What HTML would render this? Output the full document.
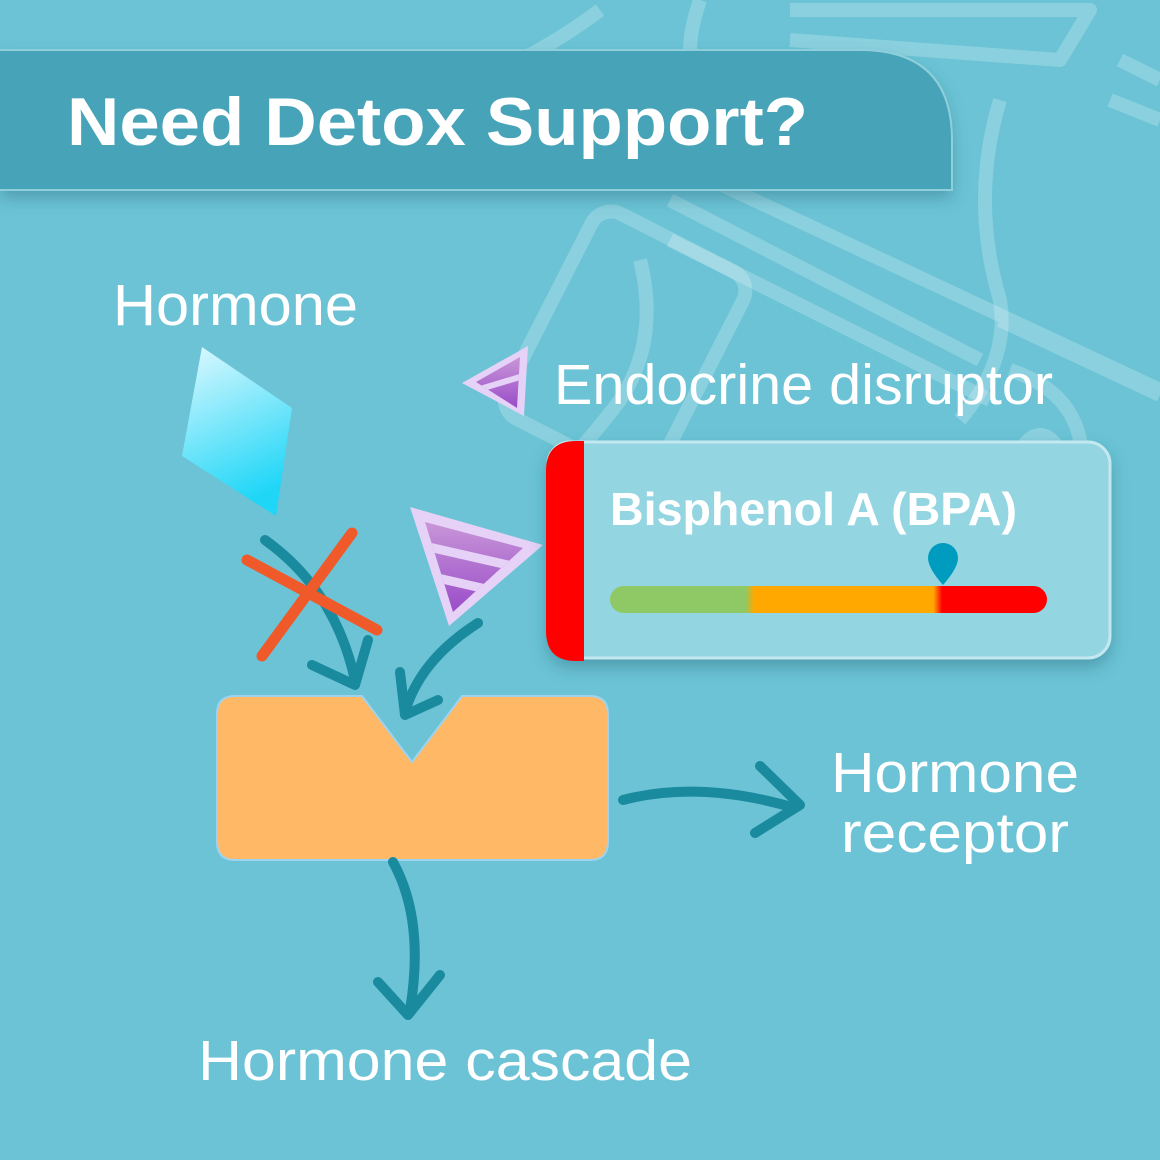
<!DOCTYPE html>
<html><head><meta charset="utf-8"><style>
html,body{margin:0;padding:0;width:1160px;height:1160px;overflow:hidden;background:#6bc3d5}
svg text{font-family:"Liberation Sans",sans-serif}
</style></head><body>
<svg width="1160" height="1160" viewBox="0 0 1160 1160" xmlns="http://www.w3.org/2000/svg">
<defs>
<linearGradient id="dia" x1="0" y1="0" x2="0.3" y2="1"><stop offset="0" stop-color="#dff9ff"/><stop offset="1" stop-color="#1fd6f7"/></linearGradient>
<linearGradient id="tri" x1="0" y1="0" x2="0" y2="1"><stop offset="0" stop-color="#c896d8"/><stop offset="1" stop-color="#9a4cc8"/></linearGradient>
<linearGradient id="bar" x1="610" y1="0" x2="1047" y2="0" gradientUnits="userSpaceOnUse">
<stop offset="0" stop-color="#8fc965"/><stop offset="0.31" stop-color="#8fc965"/><stop offset="0.33" stop-color="#ffa800"/><stop offset="0.74" stop-color="#ffa800"/><stop offset="0.76" stop-color="#ff0000"/><stop offset="1" stop-color="#ff0000"/></linearGradient>
<filter id="sh" x="-10%" y="-10%" width="120%" height="140%"><feDropShadow dx="0" dy="8" stdDeviation="8" flood-color="#2a6f80" flood-opacity="0.45"/></filter>
<clipPath id="c1"><polygon points="476,382 520,357 517,408"/></clipPath>
<clipPath id="c2"><polygon points="425,522 523,548 453,612"/></clipPath>
</defs>
<g fill="none" stroke="#ffffff" stroke-opacity="0.22" stroke-width="14" stroke-linejoin="round">
<path d="M600 10 Q560 40 520 60"/>
<path d="M700 0 Q690 30 690 50"/>
<rect x="540" y="230" width="170" height="230" rx="22" transform="rotate(27 625 345)"/>
<path d="M670 240 L990 400 M670 200 L980 360"/>
<path d="M690 170 L1160 390 M1000 320 L1160 395"/>
<path d="M790 10 L1090 10 L1060 60 L790 40"/>
<path d="M1000 100 Q970 200 1000 300 Q1010 360 960 420"/>
<path d="M1120 60 L1160 80 M1110 100 L1160 120"/>
<path d="M1010 370 Q1070 390 1080 440 L1090 520"/>
<path d="M640 260 Q660 340 620 400 Q590 440 560 470"/>
<path d="M1060 450 Q1040 420 1020 450 Q1010 480 1040 490"/>
</g>
<path d="M0 50 H860 Q952 50 952 140 V190 H0 Z" fill="#46a4b8" filter="url(#sh)"/>
<path d="M0 50 H860 Q952 50 952 140 V190 H0" fill="none" stroke="#8fcfdc" stroke-width="2"/>
<text x="67" y="145" font-size="68" font-weight="bold" fill="#fff" textLength="741" lengthAdjust="spacingAndGlyphs">Need Detox Support?</text>
<text x="113" y="325" font-size="58" fill="#fff" textLength="245" lengthAdjust="spacingAndGlyphs">Hormone</text>
<text x="554" y="404" font-size="57" fill="#fff" textLength="499" lengthAdjust="spacingAndGlyphs">Endocrine disruptor</text>
<text x="955" y="792" font-size="57" fill="#fff" text-anchor="middle" textLength="248" lengthAdjust="spacingAndGlyphs">Hormone</text>
<text x="955" y="852" font-size="57" fill="#fff" text-anchor="middle" textLength="228" lengthAdjust="spacingAndGlyphs">receptor</text>
<text x="198" y="1080" font-size="57" fill="#fff" textLength="494" lengthAdjust="spacingAndGlyphs">Hormone cascade</text>
<polygon points="202,347 292,408 276,516 182,456" fill="url(#dia)"/>
<polygon points="462,383 528,346 524,416" fill="#e6d2f7"/>
<polygon points="476,382 520,357 517,408" fill="url(#tri)"/>
<g stroke="#e6d2f7" stroke-width="6" clip-path="url(#c1)"><line x1="470" y1="368" x2="530" y2="350"/><line x1="470" y1="392" x2="530" y2="374"/></g>
<polygon points="410,507 543,545 449,626" fill="#e6d2f7"/>
<polygon points="425,522 523,548 453,612" fill="url(#tri)"/>
<g stroke="#e6d2f7" stroke-width="9" clip-path="url(#c2)"><line x1="420" y1="545" x2="530" y2="570"/><line x1="420" y1="574" x2="530" y2="599"/></g>
<rect x="548" y="442" width="562" height="216" rx="22" fill="#94d5e2" stroke="#c3e8ef" stroke-width="3" filter="url(#sh)"/>
<path d="M584 441 V661 H576 Q546 661 546 631 V471 Q546 441 576 441 Z" fill="#ff0000"/>
<text x="610" y="525" font-size="46" font-weight="bold" fill="#fff" textLength="407" lengthAdjust="spacingAndGlyphs">Bisphenol A (BPA)</text>
<rect x="610" y="586" width="437" height="27" rx="13.5" fill="url(#bar)"/>
<path d="M943 585 Q928 568 928 558 A15 15 0 0 1 958 558 Q958 568 943 585 Z" fill="#009cc0"/>
<path d="M235 696 H362 L412 762 L462 696 H590 Q608 696 608 714 V842 Q608 860 590 860 H235 Q217 860 217 842 V714 Q217 696 235 696 Z" fill="#ffb866" stroke="#9dd3f0" stroke-width="2"/>
<g fill="none" stroke="#1a8a9e" stroke-width="10" stroke-linecap="round" stroke-linejoin="round">
<path d="M265 540 Q335 590 355 680"/>
<path d="M312 665 L355 685 L368 640"/>
<path d="M478 623 Q420 660 405 712"/>
<path d="M400 672 L405 715 L438 700"/>
<path d="M623 800 Q700 780 795 808"/>
<path d="M760 766 L800 805 L755 833"/>
<path d="M393 862 Q425 920 410 1010"/>
<path d="M378 982 L408 1015 L440 975"/>
</g>
<g stroke="#f05a2a" stroke-width="11" stroke-linecap="round">
<line x1="247" y1="560" x2="377" y2="630"/>
<line x1="352" y1="533" x2="262" y2="656"/>
</g>
</svg>
</body></html>
